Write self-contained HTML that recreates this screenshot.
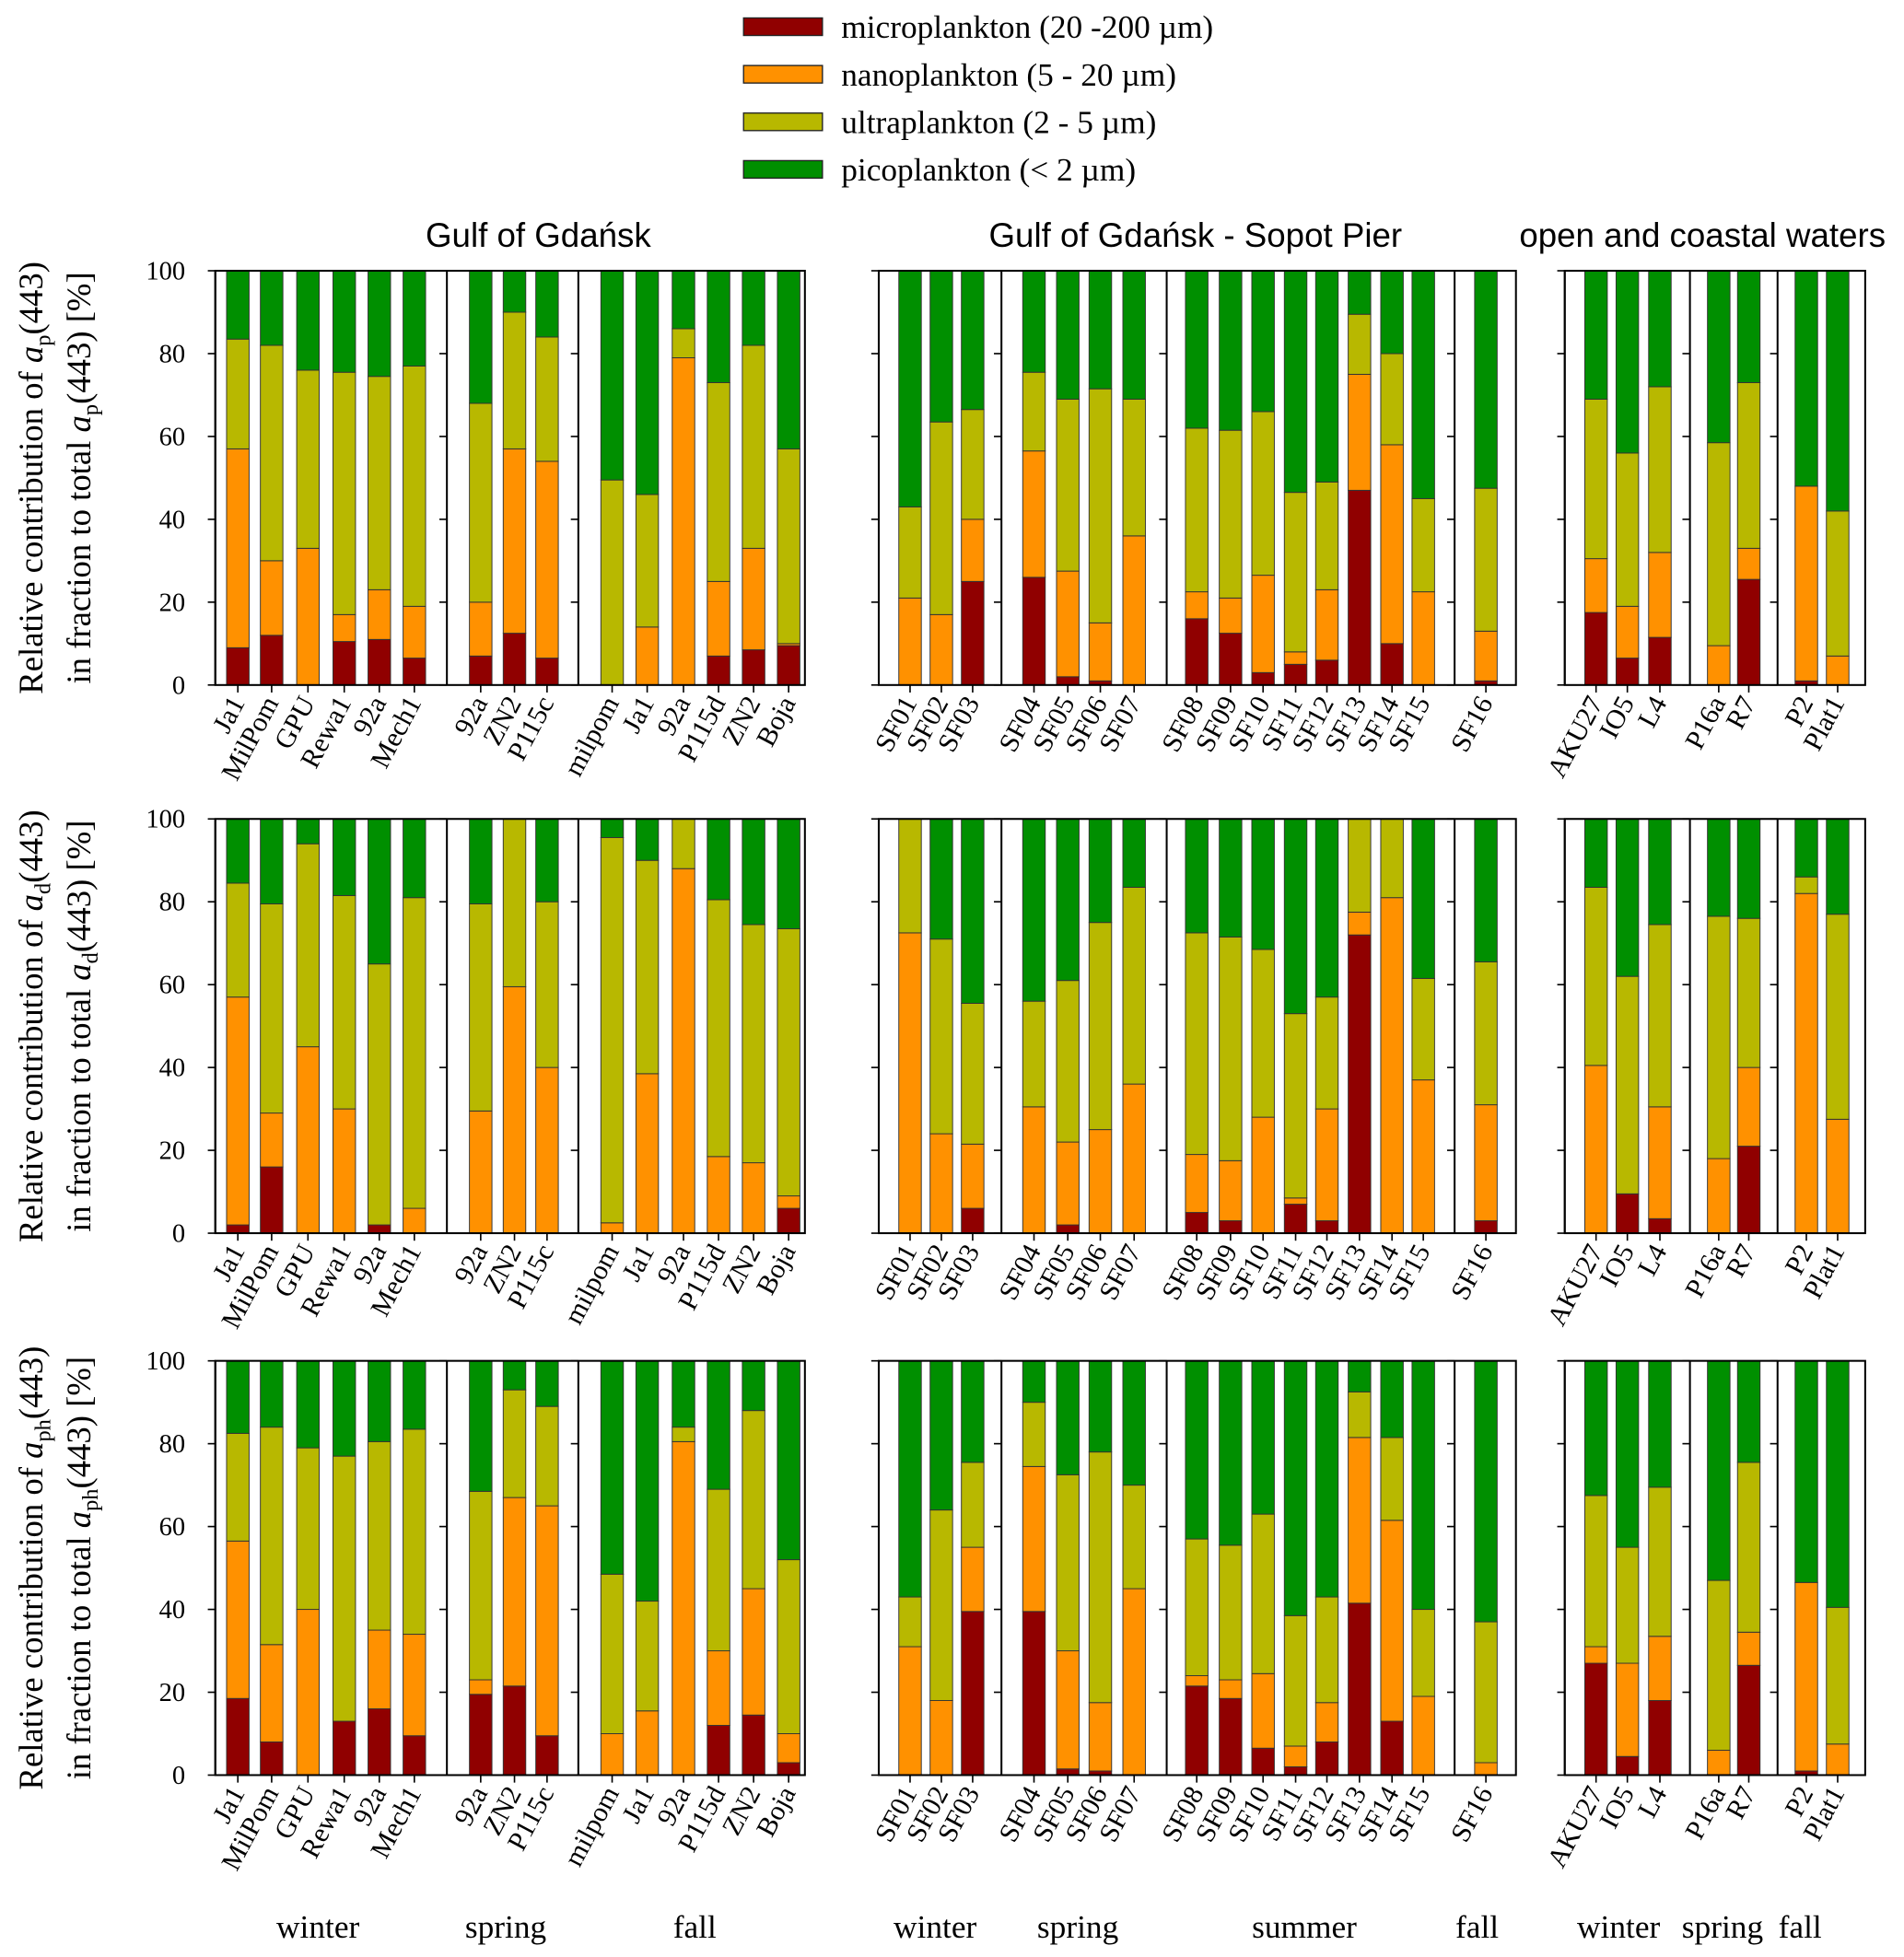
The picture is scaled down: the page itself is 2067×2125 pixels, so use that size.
<!DOCTYPE html>
<html><head><meta charset="utf-8"><style>
html,body{margin:0;padding:0;background:#fff;}
svg{display:block;}
</style></head><body>
<svg id="chart" width="2067" height="2125" viewBox="0 0 1521 1563" xmlns="http://www.w3.org/2000/svg">
<g id="legend"></g>
<g id="plot"></g>
</svg>
<script>
const stations = ["Ja1","MilPom","GPU","Rewa1","92a","Mech1","92a","ZN2","P115c","milpom","Ja1","92a","P115d","ZN2","Boja",
"SF01","SF02","SF03","SF04","SF05","SF06","SF07","SF08","SF09","SF10","SF11","SF12","SF13","SF14","SF15","SF16",
"AKU27","IO5","L4","P16a","R7","P2","Plat1"];
// cumulative tops (%)
const apMicroTop = [9,12,0,10.5,11,6.5, 7,12.5,6.5, 0,0,0,7,8.5,9.5, 0,0,25, 26,2,1,0, 16,12.5,3,5,6,47,10,0, 1, 17.5,6.5,11.5, 0,25.5, 1,0];
const apNanoTop = [57,30,33,17,23,19, 20,57,54, 0,14,79,25,33,10, 21,17,40, 56.5,27.5,15,36, 22.5,21,26.5,8,23,75,58,22.5, 13, 30.5,19,32, 9.5,33, 48,7];
const apUltraTop = [83.5,82,76,75.5,74.5,77, 68,90,84, 49.5,46,86,73,82,57, 43,63.5,66.5, 75.5,69,71.5,69, 62,61.5,66,46.5,49,89.5,80,45, 47.5, 69,56,72, 58.5,73, 48,42];
const adMicroTop = [2,16,0,0,2,0, 0,0,0, 0,0,0,0,0,6, 0,0,6, 0,2,0,0, 5,3,0,7,3,72,0,0, 3, 0,9.5,3.5, 0,21, 0,0];
const adNanoTop = [57,29,45,30,2,6, 29.5,59.5,40, 2.5,38.5,88,18.5,17,9, 72.5,24,21.5, 30.5,22,25,36, 19,17.5,28,8.5,30,77.5,81,37, 31, 40.5,9.5,30.5, 18,40, 82,27.5];
const adUltraTop = [84.5,79.5,94,81.5,65,81, 79.5,100,80, 95.5,90,100,80.5,74.5,73.5, 100,71,55.5, 56,61,75,83.5, 72.5,71.5,68.5,53,57,100,100,61.5, 65.5, 83.5,62,74.5, 76.5,76, 86,77];
const aphMicroTop = [18.5,8,0,13,16,9.5, 19.5,21.5,9.5, 0,0,0,12,14.5,3, 0,0,39.5, 39.5,1.5,1,0, 21.5,18.5,6.5,2,8,41.5,13,0, 0, 27,4.5,18, 0,26.5, 1,0];
const aphNanoTop = [56.5,31.5,40,13,35,34, 23,67,65, 10,15.5,80.5,30,45,10, 31,18,55, 74.5,30,17.5,45, 24,23,24.5,7,17.5,81.5,61.5,19, 3, 31,27,33.5, 6,34.5, 46.5,7.5];
const aphUltraTop = [82.5,84,79,77,80.5,83.5, 68.5,93,89, 48.5,42,84,69,88,52, 43,64,75.5, 90,72.5,78,70, 57,55.5,63,38.5,43,92.5,81.5,40, 37, 67.5,55,69.5, 47,75.5, 46.5,40.5];
const yTicks = [0,20,40,60,80,100];
const groupTitles = ["Gulf of Gdańsk","Gulf of Gdańsk - Sopot Pier","open and coastal waters"];
const seasonNames = ["winter","spring","fall","winter","spring","summer","fall","winter","spring","fall"];
const legendLabels = ["microplankton (20 -200 µm)","nanoplankton (5 - 20 µm)","ultraplankton (2 - 5 µm)","picoplankton (< 2 µm)"];

// layout (not data)
const colors = ["#900000","#ff9100","#b8b800","#008f00"];
const barX = [190,217,246,275,303,331, 384,411,437, 489,517,546,574,602,630, 727,752,777, 826,853,879,906, 956,983,1009,1035,1060,1086,1112,1137, 1187, 1275,1300,1326, 1373,1397, 1443,1468];
const groups = [{l:172,r:643,div:[357,462]},{l:702,r:1211,div:[800,932,1162]},{l:1250,r:1490,div:[1350,1420]}];
const rows = [{t:216,b:547,m:apMicroTop,n:apNanoTop,u:apUltraTop,sub:"p",name:"ap"},
              {t:654,b:985,m:adMicroTop,n:adNanoTop,u:adUltraTop,sub:"d",name:"ad"},
              {t:1087,b:1418,m:aphMicroTop,n:aphNanoTop,u:aphUltraTop,sub:"ph",name:"aph"}];
const seasonX = [254,404,555,747,861,1042,1180,1293,1376,1438];
const NS="http://www.w3.org/2000/svg";
const svg=document.getElementById('plot');
function mk(tag,attrs,parent,text){const e=document.createElementNS(NS,tag);for(const k in attrs)e.setAttribute(k,attrs[k]);if(text!==undefined)e.textContent=text;(parent||svg).appendChild(e);return e;}
const serif='"Liberation Serif", serif', sans='"Liberation Sans", sans-serif';

const lg=document.getElementById('legend');
legendLabels.forEach((lab,i)=>{
  const y=14+i*38;
  const r=mk('rect',{x:594,y:y,width:63,height:14,fill:colors[i],stroke:'#222','stroke-width':1},lg);
  
  
  const t=mk('text',{x:672,y:y+16,'font-family':serif,'font-size':26,fill:'#000'},lg,lab);
  
  
});
[430,955,1360].forEach((x,i)=>{
  const t=mk('text',{x:x,y:197,'text-anchor':'middle','font-family':sans,'font-size':27},svg,groupTitles[i]);
  
  
});
seasonNames.forEach((s,i)=>{
  const t=mk('text',{x:seasonX[i],y:1548,'text-anchor':'middle','font-family':serif,'font-size':26},svg,s);
  
  
});

rows.forEach((row,ri)=>{
  const g=mk('g',{});
  
  
  const yS=v=>row.b-(v/100)*(row.b-row.t);
  const cy=(row.t+row.b)/2;
  const l1=mk('text',{transform:`translate(34,${cy}) rotate(-90)`,'text-anchor':'middle','font-family':serif,'font-size':27},g);
  l1.innerHTML=`Relative contribution of <tspan font-style="italic">a</tspan><tspan font-size="18" dy="6">${row.sub}</tspan><tspan dy="-6">(443)</tspan>`;
  
  
  const l2=mk('text',{transform:`translate(72,${cy}) rotate(-90)`,'text-anchor':'middle','font-family':serif,'font-size':27},g);
  l2.innerHTML=`in fraction to total <tspan font-style="italic">a</tspan><tspan font-size="18" dy="6">${row.sub}</tspan><tspan dy="-6">(443) [%]</tspan>`;
  
  
  yTicks.forEach(v=>{
    const t=mk('text',{x:148,y:yS(v)+7,'text-anchor':'end','font-family':serif,'font-size':21},g,String(v));
    
    
  });
  stations.forEach((s,i)=>{
    const x=barX[i]-9,w=18;
    const segs=[[0,row.m[i]],[row.m[i],row.n[i]],[row.n[i],row.u[i]],[row.u[i],100]];
    segs.forEach((sg,k)=>{
      if(sg[1]-sg[0]<=0)return;
      const r=mk('rect',{x:x,y:yS(sg[1]),width:w,height:yS(sg[0])-yS(sg[1]),fill:colors[k],stroke:'#333','stroke-width':0.7},g);
      
      
    });
    mk('line',{x1:barX[i],x2:barX[i],y1:row.b,y2:row.b+6,stroke:'#000','stroke-width':1.2},g);
    const t=mk('text',{transform:`translate(${barX[i]+6},${row.b+14}) rotate(-62)`,'text-anchor':'end','font-family':serif,'font-size':22},g,s);
    
    
  });
  groups.forEach((gr,gi)=>{
    const f=mk('rect',{x:gr.l,y:row.t,width:gr.r-gr.l,height:row.b-row.t,fill:'none',stroke:'#000','stroke-width':1.5},g);
    
    
    [gr.l,...gr.div].forEach(dx=>{
      mk('line',{x1:dx,x2:dx,y1:row.t,y2:row.b,stroke:'#000','stroke-width':1.5},g);
      yTicks.forEach(v=>mk('line',{x1:dx-6,x2:dx,y1:yS(v),y2:yS(v),stroke:'#000','stroke-width':1.2},g));
    });
  });
});
</script>
</body></html>
